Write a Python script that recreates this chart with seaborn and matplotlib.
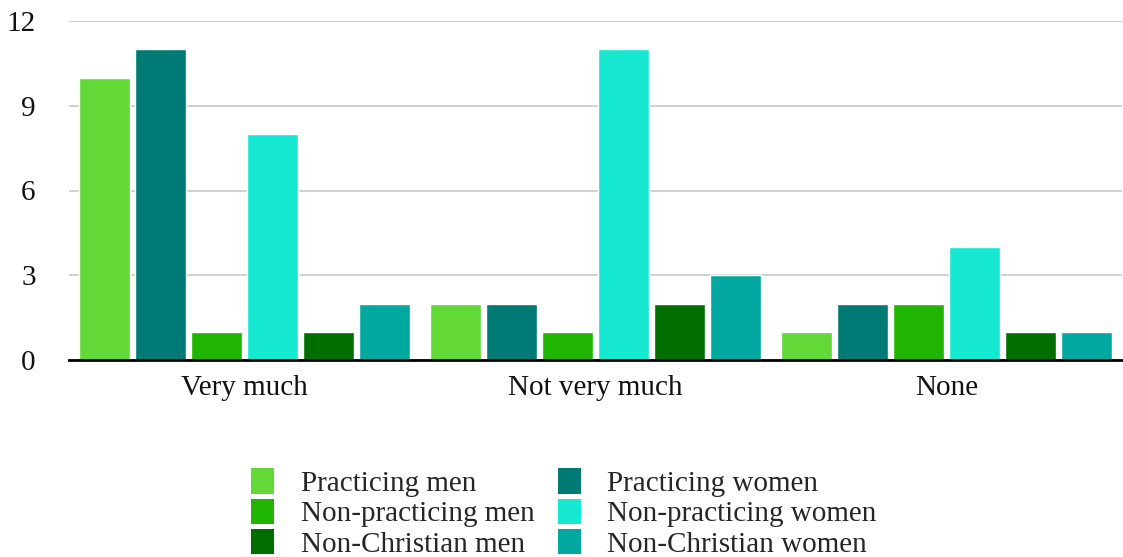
import matplotlib
matplotlib.use("Agg")
import matplotlib.pyplot as plt
from matplotlib.patches import Patch
import seaborn as sns
import pandas as pd

categories = ["Very much", "Not very much", "None"]
groups = ["Practicing men", "Practicing women", "Non-practicing men",
          "Non-practicing women", "Non-Christian men", "Non-Christian women"]
practicing_men = [10, 2, 1]
practicing_women = [11, 2, 2]
non_practicing_men = [1, 1, 2]
non_practicing_women = [8, 11, 4]
non_christian_men = [1, 2, 1]
non_christian_women = [2, 3, 1]
y_ticks = [0, 3, 6, 9, 12]

colors = ["#62d936", "#007a74", "#1fb500", "#17e8d1", "#006f00", "#00a8a0"]

series = [practicing_men, practicing_women, non_practicing_men,
          non_practicing_women, non_christian_men, non_christian_women]
rows = []
for g, vals in zip(groups, series):
    for c, v in zip(categories, vals):
        rows.append({"category": c, "group": g, "value": v})
df = pd.DataFrame(rows)

sns.set_theme(style="white")
plt.rcParams["font.family"] = ["Liberation Serif", "DejaVu Serif"]

fig = plt.figure(figsize=(11.23, 5.57), dpi=100)
W, H = 1123, 557
ax = fig.add_axes([69 / W, 1 - 360 / H, (1122 - 69) / W, 339 / H])

sns.barplot(data=df, x="category", y="value", hue="group",
            order=categories, hue_order=groups, palette=colors,
            width=0.958, gap=0.09, saturation=1, errorbar=None,
            legend=False, ax=ax)

ax.set_xlim(-0.5, 2.5)
ax.set_ylim(0, 12)
ax.set_yticks(y_ticks)
ax.set_yticklabels([str(t) for t in y_ticks])
ax.yaxis.grid(True, color="#c8c8c8", linewidth=1.2)
ax.set_axisbelow(True)
for side in ["left", "right", "top"]:
    ax.spines[side].set_visible(False)
ax.spines["bottom"].set_color("black")
ax.spines["bottom"].set_linewidth(2)
ax.spines["bottom"].set_zorder(5)
ax.tick_params(axis="y", length=0, pad=24, labelsize=21, labelcolor="#111111")
ax.tick_params(axis="x", length=0, pad=11, labelsize=21, labelcolor="#111111")
ax.set_xlabel("")
ax.set_ylabel("")

# legend: men in the first column, women in the second
legend_order = [0, 2, 4, 1, 3, 5]
handles = [Patch(facecolor=colors[i], edgecolor="none") for i in legend_order]
labels = [groups[i] for i in legend_order]
fig.legend(handles, labels, ncol=2, loc="center", bbox_to_anchor=(0.502, 1 - 513 / H),
           frameon=False, fontsize=21, handlelength=0.8, handleheight=0.95,
           handletextpad=0.9, columnspacing=0.8, labelspacing=0.06,
           borderpad=0)

fig.savefig("out.png", dpi=100)
